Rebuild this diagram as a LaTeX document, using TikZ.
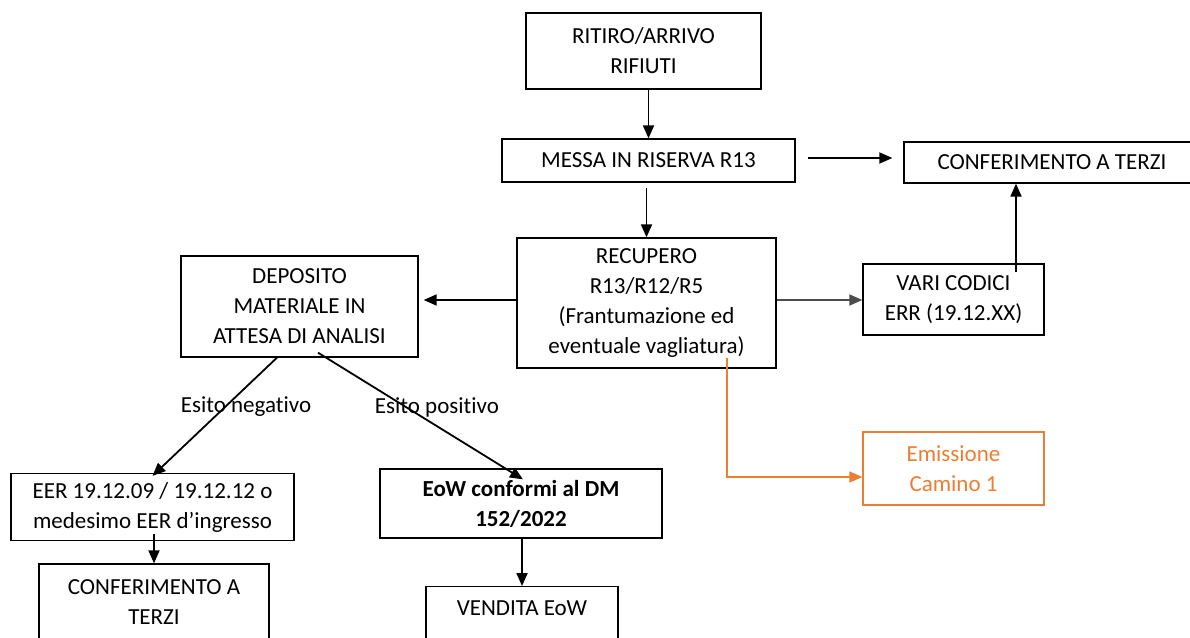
\documentclass[tikz,border=0pt]{standalone}
\usepackage{fontspec}
\setmainfont{Carlito}[Ligatures=NoCommon]
\usetikzlibrary{arrows.meta}
\definecolor{camino}{HTML}{ED7D31}
\tikzset{
  box/.style={draw, line width=1.3pt, align=center, inner sep=0pt},
  flow/.style={line width=1.8pt, -{Triangle[length=13pt,width=11pt]}},
}

\begin{document}
\begin{tikzpicture}[x=1pt, y=-1pt, every node/.style={font=\fontsize{23}{30}\selectfont}]
		\useasboundingbox (0,0) rectangle (1190,637);
		\clip (0,0) rectangle (1190,637);
		%%%%% START %%%%%
		
		\node[box, minimum width=235pt, minimum height=76pt] (ritiro) at (643.5,51) {RITIRO/ARRIVO\\RIFIUTI};
		\node[box, minimum width=293pt, minimum height=43pt] (messa) at (648.5,160.5) {MESSA IN RISERVA R13};
		\node[box, minimum width=296pt, minimum height=41pt] (terzi) at (1052,162.5) {CONFERIMENTO A TERZI};
		
		\node[box, minimum width=259pt, minimum height=130pt] (recupero) at (646.5,303) {RECUPERO\\R13/R12/R5\\(Frantumazione ed\\eventuale vagliatura)};
		\node[box, minimum width=237pt, minimum height=101pt] (deposito) at (299.5,306.5) {DEPOSITO\\MATERIALE IN\\ATTESA DI ANALISI};
		\node[box, minimum width=181pt, minimum height=71pt] (vari) at (953.5,299.5) {VARI CODICI\\ERR (19.12.XX)};
		\node[box, draw=camino, text=camino, minimum width=181pt, minimum height=73pt] (emissione) at (953.5,468.5) {Emissione\\Camino 1};
		
		\node (negativo) at (246,407) {Esito negativo};
		\node (positivo) at (437,407) {Esito positivo};
		
		\node[box, minimum width=283pt, minimum height=67pt] (eer) at (152.5,507) {EER 19.12.09 / 19.12.12 o\\medesimo EER d’ingresso};
		\node[box, minimum width=282pt, minimum height=69pt, font=\fontsize{23}{30}\selectfont\bfseries] (eow) at (521,503.5) {EoW conformi al DM\\152/2022};
		\node[box, minimum width=230pt, minimum height=76pt] (terzibis) at (154,602) {CONFERIMENTO A\\TERZI};
		\node[box, anchor=north, minimum width=192pt, inner ysep=14pt, text depth=60pt] (vendita) at (522,586) {VENDITA EoW};
		
		\coordinate (vaglio) at (727,358);
		
		\draw[flow] (messa.north |- ritiro.south) -- (messa.north);
		\draw[flow] ([yshift=-5pt]recupero.north |- messa.south) -- (recupero.north);
		\draw[flow] ([xshift=12pt,yshift=2.5pt]messa.east) -- ([xshift=-11pt,yshift=2.5pt]messa.east -| terzi.west);
		\draw[flow] ([yshift=3pt]recupero.west) -- ([xshift=5pt,yshift=3pt]recupero.west -| deposito.east);
		\draw[flow, color=black!70] ([yshift=3pt]recupero.east) -- ([yshift=3pt]recupero.east -| vari.west);
		\draw[flow] ([xshift=62.5pt,yshift=-9pt]vari.north) -- ([xshift=62.5pt]vari.north |- terzi.south);
		\draw[flow, color=camino, line width=1.4pt] (vaglio) |- ([yshift=-8.5pt]emissione.west);
		
		\draw[flow] ([xshift=-22.5pt]deposito.south) -- ([yshift=-3pt]eer.north);
		\draw[flow] ([xshift=18.5pt,yshift=5pt]deposito.south) -- ([xshift=2pt,yshift=-11pt]eow.north);
		\draw[flow] ([yshift=7pt]terzibis.north |- eer.south) -- (terzibis.north);
		\draw[flow] (vendita.north |- eow.south) -- (vendita.north);
		
		%%%%% END %%%%%
\end{tikzpicture}
\end{document}
